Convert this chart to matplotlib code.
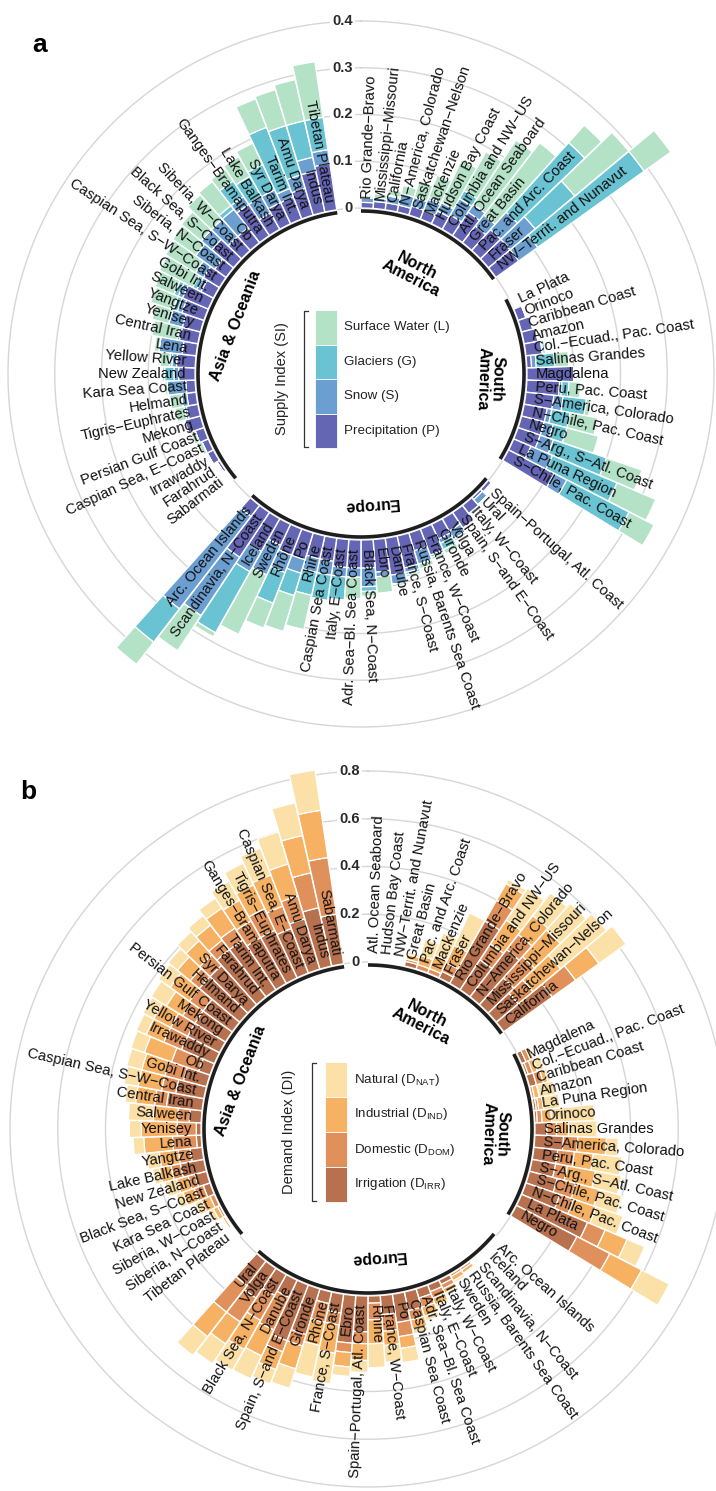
import numpy as np
import matplotlib.pyplot as plt
from matplotlib.transforms import offset_copy
from matplotlib.patches import Rectangle

plt.rcParams['font.family'] = ['Liberation Sans', 'DejaVu Sans']
plt.rcParams['mathtext.fontset'] = 'custom'
plt.rcParams['mathtext.rm'] = 'Liberation Sans'

W, H = 716, 1491

# ---------------- panel a : supply index ----------------
groups_a = ["North\nAmerica", "South\nAmerica", "Europe", "Asia & Oceania"]
names_a = [
    # North America
    "Rio Grande−Bravo", "Mississippi−Missouri", "California", "N−America, Colorado",
    "Saskatchewan−Nelson", "Mackenzie", "Hudson Bay Coast", "Columbia and NW−US",
    "Atl. Ocean Seaboard", "Great Basin", "Pac. and Arc. Coast", "Fraser",
    "NW−Territ. and Nunavut",
    # South America
    "La Plata", "Orinoco", "Caribbean Coast", "Amazon", "Col.−Ecuad., Pac. Coast",
    "Salinas Grandes", "Magdalena", "Peru, Pac. Coast", "S−America, Colorado",
    "N−Chile, Pac. Coast", "Negro", "S−Arg., S−Atl. Coast", "La Puna Region",
    "S−Chile, Pac. Coast",
    # Europe
    "Spain−Portugal, Atl. Coast", "Ural", "Italy, W−Coast", "Spain, S−and E−Coast",
    "Volga", "Gironde", "France, W−Coast", "Russia, Barents Sea Coast",
    "France, S−Coast", "Danube", "Ebro", "Black Sea, N−Coast", "Adr. Sea−Bl. Sea Coast",
    "Italy, E−Coast", "Caspian Sea Coast", "Rhine", "Po", "Rhône", "Sweden", "Iceland",
    "Scandinavia, N−Coast", "Arc. Ocean Islands",
    # Asia & Oceania
    "Sabarmati", "Farahrud", "Irrawaddy", "Caspian Sea, E−Coast", "Persian Gulf Coast",
    "Mekong", "Tigris−Euphrates", "Helmand", "Kara Sea Coast", "New Zealand",
    "Yellow River", "Lena", "Central Iran", "Yenisey", "Yangtze", "Salween", "Gobi Int.",
    "Caspian Sea, S−W−Coast", "Siberia, N−Coast", "Black Sea, S−Coast", "Siberia, W−Coast",
    "Ob", "Ganges−Bramaputra", "Lake Balkash", "Syr Darya", "Tarim Int.", "Amu Darya",
    "Indus", "Tibetan Plateau",
]
sizes_a = [13, 14, 22, 29]

precip = [
    .012, .015, .015, .015, .02, .02, .03, .035, .06, .045, .06, .06, .06,
    .003, .018, .025, .03, .035, .01, .10, .07, .06, .05, .05, .05, .04, .11,
    .008, .006, .022, .04, .03, .035, .06, .04, .07, .08, .07, .06, .06, .06, .05,
    .05, .06, .06, .05, .08, .115, .03,
    .002, .006, .015, .015, .02, .035, .025, .02, .02, .035, .04, .03, .04, .04, .05,
    .06, .03, .04, .03, .06, .04, .04, .08, .04, .05, .05, .06, .09, .10,
]
snow = [
    .010, .008, .015, .025, .02, .025, .02, .04, .02, .03, .05, .07, .05,
    .002, 0, 0, 0, .002, .01, 0, .005, .02, .01, .02, .03, .05, .03,
    .002, .014, .004, .003, .02, .01, .005, .03, .01, .02, .01, .04, .02, .02, .03,
    .03, .03, .04, .07, .05, .15, .25,
    0, 0, 0, 0, 0, 0, .005, .012, .04, .01, .01, .05, .005, .03, .01,
    .01, .01, .02, .05, .03, .05, .05, .02, .04, .03, .02, .03, .03, .03,
]
glacier = [
    0, 0, .002, 0, 0, .005, 0, .02, 0, 0, .20, .11, .28,
    0, 0, 0, .002, .005, .04, 0, .015, .05, .04, .03, .12, .15, .15,
    0, 0, 0, 0, 0, .015, 0, 0, .005, 0, 0, .01, 0, .05, .055,
    .05, .05, .07, 0, .15, 0, .09,
    0, 0, 0, 0, 0, 0, 0, 0, 0, .02, .005, 0, 0, 0, .01,
    .01, .01, 0, 0, 0, 0, .01, .04, .05, .06, .14, .11, .08, .07,
]
surface = [
    .004, .008, .012, .018, .035, .05, .10, .095, .165, .195, .05, .15, .07,
    0, .002, .002, .003, .003, .03, 0, .025, .01, .06, .07, .08, .09, .06,
    0, .002, 0, 0, .005, .01, .005, .01, .005, .005, .035, .01, .045, 0, 0,
    .075, .08, .057, .14, .01, .09, .06,
    0, .002, 0, .008, .01, .002, .02, .025, .005, .005, .02, .01, .055, .037, .05,
    .044, .08, .075, .06, .055, .07, .065, .03, .048, .05, .065, .08, .09, .12,
]
colors_a = ["#6465b4", "#6c9fd1", "#69c3d2", "#b4e2c7"]
legend_a = ["Surface Water (L)", "Glaciers (G)", "Snow (S)", "Precipitation (P)"]
ticks_a = [0, 0.1, 0.2, 0.3, 0.4]

# ---------------- panel b : demand index ----------------
groups_b = ["North\nAmerica", "South\nAmerica", "Europe", "Asia & Oceania"]
names_b = [
    # North America
    "Atl. Ocean Seaboard", "Hudson Bay Coast", "NW−Territ. and Nunavut", "Great Basin",
    "Pac. and Arc. Coast", "Mackenzie", "Fraser", "Rio Grande−Bravo", "Columbia and NW−US",
    "N−America, Colorado", "Mississippi−Missouri", "Saskatchewan−Nelson", "California",
    # South America
    "Magdalena", "Col.−Ecuad., Pac. Coast", "Caribbean Coast", "Amazon", "La Puna Region",
    "Orinoco", "Salinas Grandes", "S−America, Colorado", "Peru, Pac. Coast",
    "S−Arg., S−Atl. Coast", "S−Chile, Pac. Coast", "N−Chile, Pac. Coast", "La Plata", "Negro",
    # Europe
    "Arc. Ocean Islands", "Iceland", "Scandinavia, N−Coast", "Russia, Barents Sea Coast",
    "Sweden", "Italy, W−Coast", "Italy, E−Coast", "Adr. Sea−Bl. Sea Coast",
    "Caspian Sea Coast", "Po", "France, W−Coast", "Rhine", "Spain−Portugal, Atl. Coast",
    "Ebro", "France, S−Coast", "Rhône", "Gironde", "Spain, S−and E−Coast", "Danube",
    "Black Sea, N−Coast", "Volga", "Ural",
    # Asia & Oceania
    "Tibetan Plateau", "Siberia, N−Coast", "Siberia, W−Coast", "Kara Sea Coast",
    "Black Sea, S−Coast", "New Zealand", "Lake Balkash", "Yangtze", "Lena", "Yenisey",
    "Salween", "Central Iran", "Caspian Sea, S−W−Coast", "Gobi Int.", "Ob", "Irrawaddy",
    "Yellow River", "Mekong", "Persian Gulf Coast", "Helmand", "Syr Darya", "Farahrud",
    "Tarim Int.", "Ganges−Bramaputra", "Tigris−Euphrates", "Caspian Sea, E−Coast",
    "Amu Darya", "Indus", "Sabarmati",
]
sizes_b = [13, 14, 22, 29]

irrigation = [
    0, 0, 0, .02, 0, 0, .03, .30, .15, .25, .15, .12, .25,
    .02, .01, .03, 0, .01, .01, .05, .12, .10, .10, .12, .15, .30, .285,
    0, 0, 0, 0, 0, .02, .03, .04, .08, .12, .08, .03, .15, .20, .08, .05, .20, .25,
    .08, .10, .15, .13,
    0, 0, 0, 0, .03, .05, .10, .05, .02, .02, .05, .15, .12, .10, .05, .15, .15, .15,
    .15, .22, .22, .25, .25, .22, .22, .20, .22, .25, .21,
]
domestic = [
    0, 0, 0, .01, .02, .02, .04, .10, .08, .08, .12, .08, .12,
    .02, .02, .03, .01, .01, .02, .04, .06, .07, .05, .08, .06, .08, .155,
    0, 0, .003, .01, .01, .02, .03, .04, .04, .06, .07, .07, .05, .04, .05, .08, .05,
    .05, .15, .12, .12, .14,
    .001, .005, .01, .02, .04, .03, .04, .05, .10, .08, .05, .05, .06, .08, .12, .08,
    .08, .06, .07, .05, .06, .05, .06, .08, .10, .10, .10, .15, .24,
]
industrial = [
    0, 0, 0, .02, .04, .06, .08, .08, .12, .10, .15, .15, .12,
    .015, .02, .02, .02, .02, .04, .05, .12, .08, .12, .10, .10, .10, .15,
    0, .002, .005, .015, .02, .02, .03, .04, .04, .05, .06, .10, .07, .06, .12, .10,
    .10, .08, .12, .14, .11, .13,
    .001, .01, .02, .04, .05, .05, .05, .08, .12, .15, .10, .08, .10, .10, .12, .08,
    .08, .08, .10, .07, .08, .08, .10, .10, .11, .14, .14, .16, .20,
]
natural = [
    .001, .001, .002, .01, .07, .10, .15, .02, .16, .12, .15, .25, .14,
    .005, .03, .01, .07, .07, .18, .12, .05, .12, .11, .10, .12, .08, .13,
    .001, 0, .002, .005, .01, .01, .01, .02, .02, .06, .07, .10, .05, .04, .13, .135,
    .085, .064, .107, .10, .10, .10,
    .001, .005, .02, .03, .03, .05, .03, .055, .045, .05, .105, .045, .06, .065, .06,
    .045, .05, .075, .06, .05, .05, .05, .05, .09, .10, .12, .14, .14, .17,
]
colors_b = ["#b8714f", "#e0905a", "#f6b163", "#fbe0a7"]
legend_b = ["Natural (D$_{\\mathrm{NAT}}$)", "Industrial (D$_{\\mathrm{IND}}$)",
            "Domestic (D$_{\\mathrm{DOM}}$)", "Irrigation (D$_{\\mathrm{IRR}}$)"]
ticks_b = [0, 0.2, 0.4, 0.6, 0.8]

fig = plt.figure(figsize=(W / 100, H / 100), dpi=100)


def draw_panel(cx, cy, r0, scale, top, names, sizes, comps, colors, ticks, groups, grp_r):
    # cx, cy: centre in image pixels, r0: pixel radius of value 0, scale: px per unit
    rmin = -r0 / scale
    R = (top - rmin) * scale
    ax = fig.add_axes([(cx - R) / W, (H - cy - R) / H, 2 * R / W, 2 * R / H],
                      projection='polar')
    ax.set_theta_zero_location('N')
    ax.set_theta_direction(-1)
    ax.set_ylim(rmin, top)
    ax.axis('off')

    n_slots = sum(sizes) + 2 * len(sizes)
    step = 2 * np.pi / n_slots
    idx, k, spans = [], 0, []
    for s in sizes:
        idx.extend(range(k, k + s))
        spans.append((k, k + s - 1))
        k += s + 2
    theta = (np.array(idx) + 0.5) * step

    tt = np.linspace(0, 2 * np.pi, 721)
    for t in ticks:
        ax.plot(tt, np.full_like(tt, t), color='#d6d6d6', lw=1.0, zorder=0)

    bottom = np.zeros(len(names))
    for vals, col in zip(comps, colors):
        vals = np.array(vals)
        ax.bar(theta, vals, width=step * 0.98, bottom=bottom, color=col,
               edgecolor='white', linewidth=0.9, zorder=2)
        bottom += vals

    lab = 9 / scale
    for th, nm in zip(theta, names):
        phi = np.degrees(th)
        if phi < 180:
            rot, ha = 90 - phi, 'left'
        else:
            rot, ha = 270 - phi, 'right'
        ax.text(th, lab, nm, rotation=rot, rotation_mode='anchor', ha=ha, va='center',
                fontsize=10.6, color='#111111', zorder=5)

    arc_r = -3 / scale
    for (a, b), g, gr in zip(spans, groups, grp_r):
        seg = np.linspace(a * step, (b + 1) * step, 80)
        ax.plot(seg, np.full_like(seg, arc_r), color='#1e1e1e', lw=2.6,
                solid_capstyle='butt', zorder=4)
        mid = (a + b + 1) / 2 * step
        ax.text(mid, (gr - r0) / scale, g, rotation=-np.degrees(mid),
                rotation_mode='anchor', ha='center', va='center', fontsize=11.5,
                fontweight='bold', linespacing=0.95, zorder=5)

    trans = offset_copy(ax.transData, fig=fig, x=-8, y=0, units='dots')
    for t in ticks:
        ax.text(0, t, f"{t:g}", transform=trans, ha='right', va='center', fontsize=10.5,
                fontweight='bold', color='#2a2a2a', zorder=6,
                bbox=dict(boxstyle='square,pad=0.15', fc='white', ec='none'))
    return ax


def legend(x_box, y_top, box_h, labels, colors, title, x_br, x_title):
    for i, (lb, col) in enumerate(zip(labels, colors)):
        y = y_top + i * box_h
        fig.add_artist(Rectangle((x_box / W, 1 - (y + box_h) / H), 22 / W, box_h / H,
                                 transform=fig.transFigure, fc=col, ec='white', lw=0.6))
        fig.text((x_box + 29) / W, 1 - (y + box_h / 2) / H, lb, fontsize=9.6,
                 ha='left', va='center', color='#222222')
    y_bot = y_top + len(labels) * box_h
    xs = [x_br + 4, x_br, x_br, x_br + 4]
    ys = [y_top + 1, y_top + 1, y_bot - 1, y_bot - 1]
    fig.add_artist(plt.Line2D([x / W for x in xs], [1 - y / H for y in ys],
                              transform=fig.transFigure, color='#333333', lw=0.9))
    fig.text(x_title / W, 1 - (y_top + y_bot) / 2 / H, title, rotation=90, fontsize=10.5,
             ha='center', va='center', color='#222222')


draw_panel(361, 374, 166, 467.5, 0.5, names_a, sizes_a,
           [precip, snow, glacier, surface], colors_a, ticks_a, groups_a,
           [115, 129, 131, 134])
legend(315, 310, 34.5, legend_a, colors_a[::-1], "Supply Index (SI)", 304, 282)

draw_panel(368, 1129, 167, 238.75, 0.9, names_b, sizes_b,
           [irrigation, domestic, industrial, natural], colors_b, ticks_b, groups_b,
           [122, 127, 129, 136])
legend(325, 1062, 35, legend_b, colors_b[::-1], "Demand Index (DI)", 312, 289)

fig.text(32 / W, 1 - 45 / H, "a", fontsize=19, fontweight='bold', ha='left', va='center')
fig.text(20 / W, 1 - 792 / H, "b", fontsize=19, fontweight='bold', ha='left', va='center')

fig.savefig("out.png", dpi=100)
